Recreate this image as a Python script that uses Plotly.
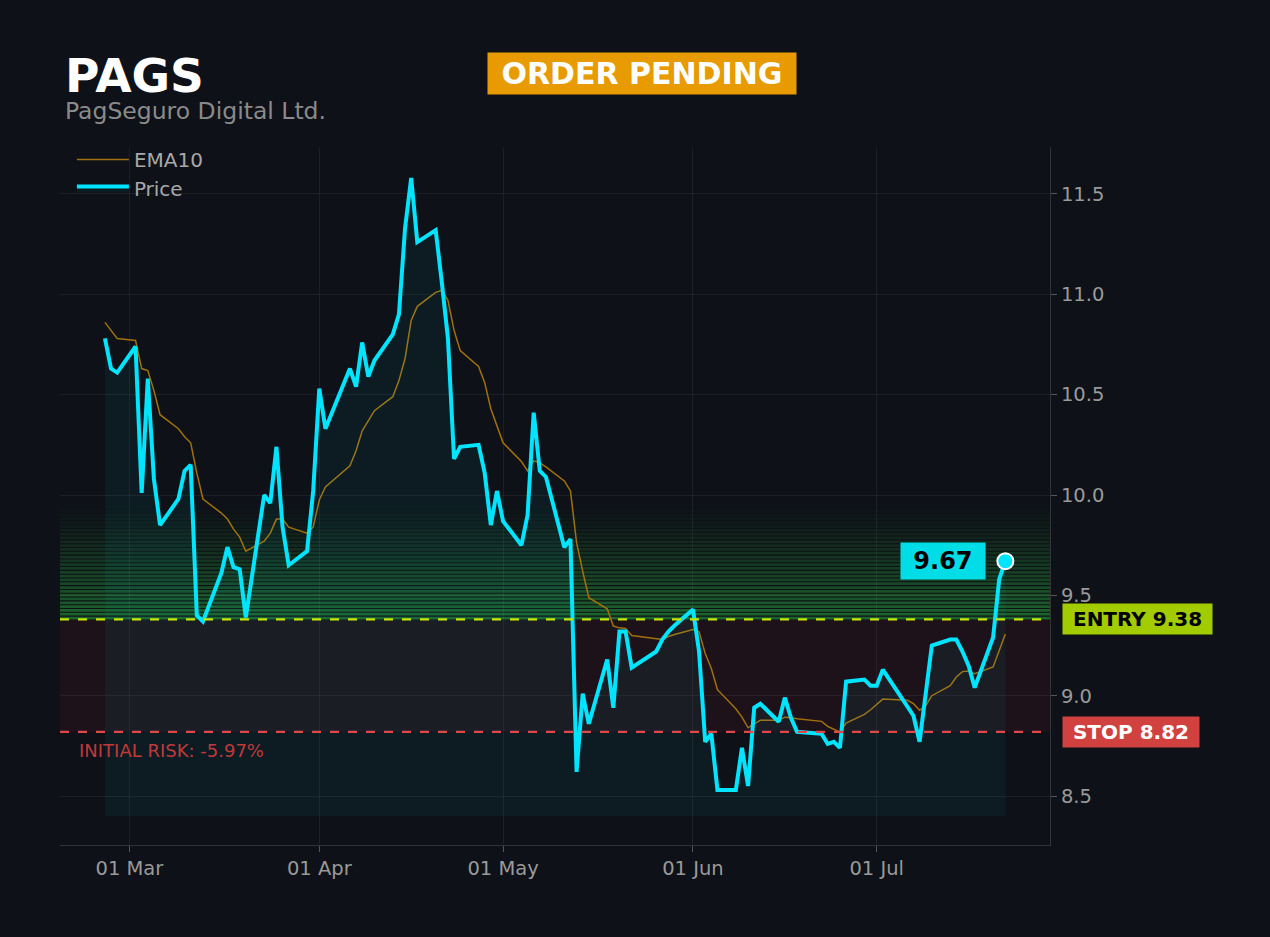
import plotly.graph_objects as go
import pandas as pd

TICKER = "PAGS"
COMPANY = "PagSeguro Digital Ltd."
STATUS = "ORDER PENDING"
ENTRY = 9.38
STOP = 8.82
BASE = 8.40  # bottom of the price area fill

# trading days (NYSE closed on these)
START = "2026-02-25"
END = "2026-07-22"
HOLIDAYS = ["2026-04-03", "2026-05-25", "2026-06-19", "2026-07-03"]

price = [
    10.78, 10.63, 10.61,
    10.74, 10.01, 10.58, 10.08, 9.85, 9.98, 10.12, 10.15, 9.40, 9.37, 9.61,
    9.74, 9.64, 9.63, 9.39, 10.00, 9.96, 10.24, 9.84, 9.65, 9.72, 10.02,
    10.53, 10.33, 10.63, 10.54, 10.76, 10.59, 10.67, 10.80, 10.90, 11.33,
    11.58, 11.26, 11.32, 11.06, 10.78, 10.18, 10.24, 10.25, 10.11, 9.85, 10.02,
    9.87, 9.75, 9.90, 10.41, 10.12, 10.09, 9.74, 9.78, 8.62, 9.01,
    8.86, 9.18, 8.94, 9.32, 9.32, 9.14, 9.22, 9.28, 9.32, 9.35,
    9.43, 9.22, 8.77, 8.81, 8.53, 8.53, 8.74, 8.55, 8.94, 8.96, 8.87,
    8.99, 8.89, 8.82, 8.81, 8.76, 8.77, 8.74, 9.07, 9.08, 9.05,
    9.05, 9.13, 8.94, 8.90, 8.77, 9.03, 9.25, 9.28, 9.28, 9.22, 9.15,
    9.04, 9.29, 9.58, 9.67,
]

ema10 = [
    10.86, 10.82, 10.78,
    10.77, 10.63, 10.62, 10.52, 10.40, 10.33, 10.29, 10.26, 10.11, 9.98, 9.91,
    9.88, 9.83, 9.79, 9.72, 9.77, 9.81, 9.88, 9.88, 9.84, 9.81, 9.84,
    9.975, 10.04, 10.145, 10.22, 10.32, 10.37, 10.42, 10.49, 10.57, 10.68,
    10.87, 10.94, 11.01, 11.02, 10.97, 10.82, 10.72, 10.64, 10.56, 10.43, 10.35,
    10.26, 10.167, 10.12, 10.17, 10.16, 10.14, 10.07, 10.02, 9.763, 9.62,
    9.488, 9.433, 9.347, 9.338, 9.335, 9.30, 9.285, 9.28, 9.295, 9.305,
    9.33, 9.318, 9.21, 9.135, 9.03, 8.935, 8.893, 8.84, 8.86, 8.877, 8.877,
    8.893, 8.89, 8.885, 8.872, 8.847, 8.833, 8.818, 8.863, 8.907, 8.93,
    8.957, 8.983, 8.977, 8.96, 8.927, 8.95, 9.00, 9.05, 9.093, 9.12, 9.123,
    9.11, 9.143, 9.22, 9.307,
]

dates = pd.bdate_range(START, END, freq="C", holidays=HOLIDAYS)

BG = "#0e1117"
CYAN = "#00e5ff"
GRID = "rgba(255,255,255,0.06)"
FONT = "DejaVu Sans"
SP = "&nbsp;"

fig = go.Figure()

fig.add_trace(go.Scatter(
    x=dates, y=ema10, name="EMA10", mode="lines",
    line=dict(color="#a0700f", width=1.5)))

# invisible floor for the price area
fig.add_trace(go.Scatter(
    x=dates, y=[BASE] * len(dates), mode="lines",
    line=dict(width=0), showlegend=False, hoverinfo="skip"))

fig.add_trace(go.Scatter(
    x=dates, y=price, name="Price", mode="lines",
    line=dict(color=CYAN, width=4),
    fill="tonexty", fillcolor="rgba(0,229,255,0.05)"))

fig.add_trace(go.Scatter(
    x=[dates[-1]], y=[price[-1]], mode="markers", showlegend=False,
    marker=dict(size=16, color=CYAN, line=dict(color="white", width=2))))

shapes = []
# risk zone between stop and entry
shapes.append(dict(type="rect", xref="paper", yref="y", x0=0, x1=1, y0=STOP, y1=ENTRY,
                   fillcolor="rgba(220,40,60,0.08)", line=dict(width=0), layer="below"))

# green glow above the entry, drawn as thin fading stripes
n_stripes = 30
top = 9.95
step = (top - ENTRY) / n_stripes
for i in range(n_stripes):
    a = 0.48 * (1 - i / n_stripes) ** 1.15
    shapes.append(dict(type="rect", xref="paper", yref="y", x0=0, x1=1,
                       y0=ENTRY + i * step, y1=ENTRY + i * step + step * 0.72,
                       fillcolor="rgba(45,190,70,%.3f)" % a, line=dict(width=0), layer="below"))

shapes.append(dict(type="line", xref="paper", yref="y", x0=0, x1=1, y0=ENTRY, y1=ENTRY,
                   line=dict(color="#c8e600", width=2.2, dash="dash")))
shapes.append(dict(type="line", xref="paper", yref="y", x0=0, x1=1, y0=STOP, y1=STOP,
                   line=dict(color="#e04848", width=2.2, dash="dash")))

risk = (STOP - ENTRY) / ENTRY * 100

annotations = [
    dict(xref="paper", yref="paper", x=0.003, y=1.103, xanchor="left", yanchor="middle",
         text="<b>%s</b>" % TICKER, showarrow=False,
         font=dict(family=FONT, size=47, color="white")),
    dict(xref="paper", yref="paper", x=0.003, y=1.051, xanchor="left", yanchor="middle",
         text=COMPANY, showarrow=False,
         font=dict(family=FONT, size=23.5, color="#8a8a8a")),
    dict(xref="paper", yref="paper", x=0.588, y=1.105, xanchor="center", yanchor="middle",
         text="<b>%s%s%s</b>" % (SP, STATUS, SP), showarrow=False, bgcolor="#e89b00",
         borderpad=3, font=dict(family=FONT, size=30, color="white")),
    dict(xref="paper", yref="y", x=1.012, y=ENTRY, xanchor="left", yanchor="middle",
         text="<b>%sENTRY %.2f%s</b>" % (SP, ENTRY, SP), showarrow=False, bgcolor="#a3cc00",
         borderpad=3, font=dict(family=FONT, size=20, color="black")),
    dict(xref="paper", yref="y", x=1.012, y=STOP, xanchor="left", yanchor="middle",
         text="<b>%sSTOP %.2f%s</b>" % (SP, STOP, SP), showarrow=False, bgcolor="#d0413f",
         borderpad=3, font=dict(family=FONT, size=20, color="white")),
    dict(xref="x", yref="y", x=dates[-1], y=price[-1], xanchor="right", yanchor="middle",
         xshift=-19, text="<b>%s%.2f%s</b>" % (SP, price[-1], SP), showarrow=False,
         bgcolor="#00dde6", borderpad=4, font=dict(family=FONT, size=24, color="black")),
    dict(xref="paper", yref="y", x=0.017, y=STOP, xanchor="left", yanchor="top", yshift=-6,
         text="INITIAL RISK: %.2f%%" % risk, showarrow=False,
         font=dict(family=FONT, size=18, color="#c0393b")),
]

fig.update_layout(
    width=1270, height=937,
    paper_bgcolor=BG, plot_bgcolor=BG,
    margin=dict(l=60, r=220, t=147, b=92),
    font=dict(family=FONT, color="#9a9a9a"),
    shapes=shapes, annotations=annotations,
    showlegend=True,
    legend=dict(x=0.012, y=1.01, xanchor="left", yanchor="top", bgcolor="rgba(0,0,0,0)",
                traceorder="normal", itemwidth=52,
                font=dict(family=FONT, size=20, color="#a8a8a8")),
    xaxis=dict(range=["2026-02-17 16:00", "2026-07-29 07:00"], tickformat="%d %b",
               dtick="M1", tick0="2026-03-01", showgrid=True, gridcolor=GRID,
               ticks="outside", ticklen=6, tickcolor="#555", showline=True, linecolor="#333",
               zeroline=False, tickfont=dict(size=19.5, color="#9a9a9a")),
    yaxis=dict(side="right", range=[8.256, 11.734], dtick=0.5, tickformat=".1f",
               showgrid=True, gridcolor=GRID, ticks="outside", ticklen=6, tickcolor="#555",
               showline=True, linecolor="#333", zeroline=False,
               tickfont=dict(size=19.5, color="#9a9a9a")),
)

fig.write_html("out.html", config={"displayModeBar": False},
               post_script="document.body.style.margin='0';"
                           "document.body.style.background='%s';" % BG)
